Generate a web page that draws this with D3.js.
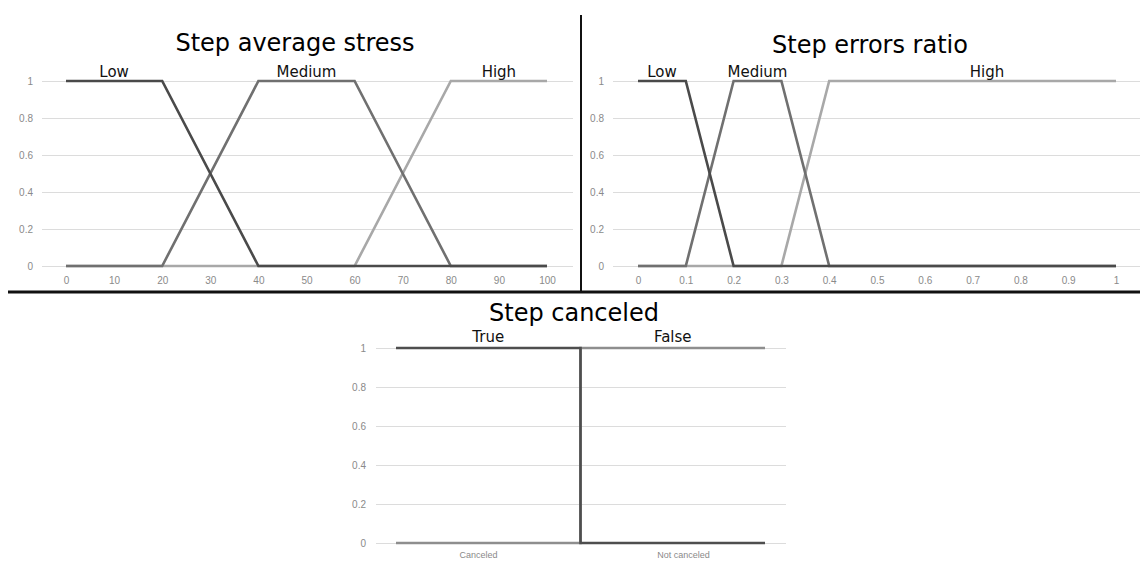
<!DOCTYPE html>
<html><head><meta charset="utf-8">
<script src="https://cdn.jsdelivr.net/npm/d3@7"></script>
<style>
body{margin:0;background:#fff;}
svg{display:block;}
</style></head>
<body>
<svg id="c" width="1140" height="561"></svg>
<script>
// ---- data ----
const yTicks = [0, 0.2, 0.4, 0.6, 0.8, 1];
const yTickLabels = ["0", "0.2", "0.4", "0.6", "0.8", "1"];

const stressTitle = "Step average stress";
const stressTicks = [0,10,20,30,40,50,60,70,80,90,100];
const stressNames = ["Low","Medium","High"];
const stressX = {Low:[0,20,40,100], Medium:[0,20,40,60,80,100], High:[0,60,80,100]};
const stressY = {Low:[1,1,0,0], Medium:[0,0,1,1,0,0], High:[0,0,1,1]};
const stressLabelX = [10, 50, 90];

const errTitle = "Step errors ratio";
const errTicks = [0,0.1,0.2,0.3,0.4,0.5,0.6,0.7,0.8,0.9,1];
const errTickLabels = ["0","0.1","0.2","0.3","0.4","0.5","0.6","0.7","0.8","0.9","1"];
const errNames = ["Low","Medium","High"];
const errX = {Low:[0,0.1,0.2,1], Medium:[0,0.1,0.2,0.3,0.4,1], High:[0,0.3,0.4,1]};
const errY = {Low:[1,1,0,0], Medium:[0,0,1,1,0,0], High:[0,0,1,1]};
const errLabelX = [0.05, 0.25, 0.73];

const cancelTitle = "Step canceled";
const cancelCategories = ["Canceled", "Not canceled"];
const cancelNames = ["True","False"];
const cancelX = {True:[0,0.5,0.5,1], False:[0,0.5,0.5,1]};
const cancelY = {True:[1,1,0,0], False:[0,0,1,1]};
const cancelLabelX = [0.25, 0.75];

// ---- styles ----
const seriesColor = {Low:"#4a4a4a", Medium:"#707070", High:"#a8a8a8", True:"#4e4e4e", False:"#8e8e8e"};
const tickFont = "'Liberation Sans', Arial, sans-serif";
const textFont = "'DejaVu Sans', Verdana, sans-serif";

const svg = d3.select("#c");

function drawPanel(o){
  const g = svg.append("g");
  const y = d3.scaleLinear().domain([0,1]).range([o.y0, o.y1]);
  const x = d3.scaleLinear().domain(o.xDomain).range([o.x0, o.x1]);

  // gridlines
  const grid = g.append("g").attr("transform", `translate(${o.gx0},0)`)
    .call(d3.axisLeft(y).tickValues(yTicks).tickSize(-(o.gx1 - o.gx0)).tickFormat(""));
  grid.select(".domain").remove();
  grid.selectAll("line").attr("stroke", "#dcdcdc").attr("stroke-width", 1);

  // y labels
  const ya = g.append("g").attr("transform", `translate(${o.yLabelX},0)`)
    .call(d3.axisLeft(y).tickValues(yTicks).tickSize(0).tickPadding(0)
      .tickFormat((d,i)=>yTickLabels[i]));
  ya.select(".domain").remove();
  ya.selectAll("text").attr("font-family", tickFont).attr("font-size", 10).attr("fill", "#8a8a8a");

  // x labels
  if (o.xCats) {
    const xb = d3.scaleBand().domain(o.xCats).range([o.gx0, o.gx1]);
    const xa = g.append("g").attr("transform", `translate(0,${o.xLabelY})`)
      .call(d3.axisBottom(xb).tickSize(0).tickPadding(0));
    xa.select(".domain").remove();
    xa.selectAll("text").attr("font-family", tickFont).attr("font-size", 9).attr("fill", "#8a8a8a");
  } else {
    const xa = g.append("g").attr("transform", `translate(0,${o.xLabelY})`)
      .call(d3.axisBottom(x).tickValues(o.xTicks).tickSize(0).tickPadding(0)
        .tickFormat((d,i)=> o.xTickLabels ? o.xTickLabels[i] : String(d)));
    xa.select(".domain").remove();
    xa.selectAll("text").attr("font-family", tickFont).attr("font-size", 10).attr("fill", "#8a8a8a");
  }

  // lines
  const line = d3.line().x(d=>x(d[0])).y(d=>y(d[1]));
  o.order.forEach(name=>{
    const pts = o.xs[name].map((v,i)=>[v, o.ys[name][i]]);
    g.append("path").attr("d", line(pts)).attr("fill","none")
      .attr("stroke", seriesColor[name]).attr("stroke-width", 2.6)
      .attr("stroke-linejoin","miter");
  });

  // series labels
  o.names.forEach((name,i)=>{
    g.append("text").attr("x", x(o.labelX[i])).attr("y", y(1) - o.labelDy)
      .attr("text-anchor","middle").attr("font-family", textFont)
      .attr("font-size", 15).attr("fill","#111").text(name);
  });

  // title
  g.append("text").attr("x", o.titleX).attr("y", o.titleY).attr("text-anchor","middle")
    .attr("font-family", textFont).attr("font-size", 24).attr("fill","#000").text(o.title);
}

drawPanel({title:stressTitle, titleX:295, titleY:51, xDomain:[0,100], x0:66, x1:547,
  y0:266, y1:81, gx0:42, gx1:573, yLabelX:33, xLabelY:277, xTicks:stressTicks,
  names:stressNames, order:["High","Medium","Low"], xs:stressX, ys:stressY, labelX:stressLabelX, labelDy:4});

drawPanel({title:errTitle, titleX:870, titleY:53, xDomain:[0,1], x0:638, x1:1116,
  y0:266, y1:81, gx0:613, gx1:1140, yLabelX:604, xLabelY:277, xTicks:errTicks, xTickLabels:errTickLabels,
  names:errNames, order:["High","Medium","Low"], xs:errX, ys:errY, labelX:errLabelX, labelDy:4});

drawPanel({title:cancelTitle, titleX:574, titleY:321, xDomain:[0,1], x0:396, x1:765,
  y0:543, y1:348, gx0:376, gx1:786, yLabelX:366, xLabelY:552, xCats:cancelCategories,
  names:cancelNames, order:["False","True"], xs:cancelX, ys:cancelY, labelX:cancelLabelX, labelDy:6});

// separators
svg.append("line").attr("x1",8).attr("x2",1140).attr("y1",292).attr("y2",292)
  .attr("stroke","#111").attr("stroke-width",3);
svg.append("line").attr("x1",581).attr("x2",581).attr("y1",15).attr("y2",292)
  .attr("stroke","#111").attr("stroke-width",2);
</script>
</body></html>
